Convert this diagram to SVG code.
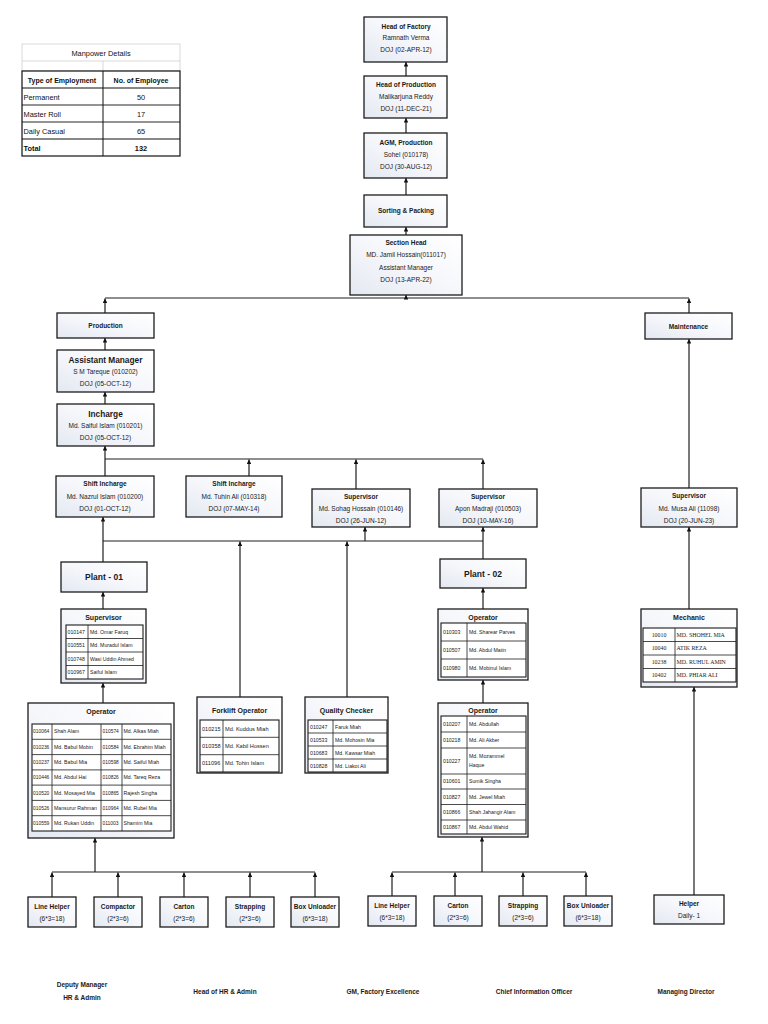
<svg xmlns="http://www.w3.org/2000/svg" width="768" height="1024" viewBox="0 0 768 1024">
<style>
.box{fill:url(#g);stroke:#1c1c1c;stroke-width:1.3}
.tb{fill:#fff;stroke:#1c1c1c;stroke-width:1.1}
.gl{stroke:#1c1c1c;stroke-width:0.8;fill:none}
.t{font-family:"Liberation Sans",Arial,sans-serif;font-size:6.5px;fill:#1a1a1a;text-anchor:middle}
.b{font-weight:bold}
.h1{font-size:8.3px;font-weight:bold}
.h2{font-size:8.5px;font-weight:bold}
.ti{font-size:7px;font-weight:bold}
.c{font-family:"Liberation Sans",Arial,sans-serif;font-size:5.2px;fill:#222}
.cs{font-family:"Liberation Serif","Times New Roman",serif;font-size:5.9px;fill:#222}
.conn{stroke:#1e1e1e;stroke-width:1.2;fill:none}
.mp{font-family:"Liberation Sans",Arial,sans-serif;font-size:7.4px;fill:#111}
</style>
<defs>
<linearGradient id="g" x1="1" y1="0" x2="0" y2="1">
<stop offset="0" stop-color="#ffffff"/>
<stop offset="0.5" stop-color="#f6f7fb"/>
<stop offset="1" stop-color="#e3e8f1"/>
</linearGradient>
<marker id="ar" viewBox="0 0 6 6" refX="6" refY="3" markerWidth="5" markerHeight="4.5" markerUnits="userSpaceOnUse" orient="auto">
<path d="M0,0 L6,3 L0,6 z" fill="#111"/>
</marker>
</defs>
<rect width="768" height="1024" fill="#fff"/>

<!-- Manpower table -->
<g id="manpower">
<rect x="22" y="44" width="158" height="27" fill="#fff" stroke="#cfcfcf" stroke-width="0.8"/>
<line x1="22" y1="61" x2="180" y2="61" stroke="#cfcfcf" stroke-width="0.8"/>
<line x1="103" y1="61" x2="103" y2="71" stroke="#cfcfcf" stroke-width="0.8"/>
<rect x="22" y="71" width="158" height="85" fill="#fff" stroke="#111" stroke-width="1.2"/>
<line x1="22" y1="88" x2="180" y2="88" stroke="#111" stroke-width="1.2"/>
<line x1="22" y1="105" x2="180" y2="105" stroke="#111" stroke-width="0.9"/>
<line x1="22" y1="122" x2="180" y2="122" stroke="#111" stroke-width="0.9"/>
<line x1="22" y1="139" x2="180" y2="139" stroke="#111" stroke-width="1.2"/>
<line x1="103" y1="71" x2="103" y2="156" stroke="#111" stroke-width="1"/>
<text class="mp" x="101" y="55.5" text-anchor="middle">Manpower Details</text>
<text class="mp b" x="62" y="82.5" text-anchor="middle" style="font-size:7px">Type of Employment</text>
<text class="mp b" x="141" y="82.5" text-anchor="middle" style="font-size:7px">No. of Employee</text>
<text class="mp" x="23.5" y="99.5">Permanent</text>
<text class="mp" x="141" y="99.5" text-anchor="middle">50</text>
<text class="mp" x="23.5" y="116.5">Master Roll</text>
<text class="mp" x="141" y="116.5" text-anchor="middle">17</text>
<text class="mp" x="23.5" y="133.5">Daily Casual</text>
<text class="mp" x="141" y="133.5" text-anchor="middle">65</text>
<text class="mp b" x="23.5" y="150.5">Total</text>
<text class="mp b" x="141" y="150.5" text-anchor="middle">132</text>
</g>

<!-- Connectors -->
<g id="connectors">
<path class="conn" marker-end="url(#ar)" d="M406,76 V62"/>
<path class="conn" marker-end="url(#ar)" d="M406,133 V118"/>
<path class="conn" marker-end="url(#ar)" d="M406,195 V178"/>
<path class="conn" marker-end="url(#ar)" d="M406,235 V227"/>
<path class="conn" d="M105,298 H689"/>
<path class="conn" marker-end="url(#ar)" d="M406,298 V295"/>
<path class="conn" marker-end="url(#ar)" d="M105,313 V298.6"/>
<path class="conn" marker-end="url(#ar)" d="M689,313 V298.6"/>
<path class="conn" marker-end="url(#ar)" d="M105,350 V338"/>
<path class="conn" marker-end="url(#ar)" d="M105,404 V392"/>
<path class="conn" marker-end="url(#ar)" d="M105,476 V446"/>
<path class="conn" d="M105,459 H483"/>
<path class="conn" marker-end="url(#ar)" d="M249,476 V459.6"/>
<path class="conn" marker-end="url(#ar)" d="M356,489 V459.6"/>
<path class="conn" marker-end="url(#ar)" d="M483,489 V459.6"/>
<path class="conn" marker-end="url(#ar)" d="M103,562 V517"/>
<path class="conn" d="M103,541 H483"/>
<path class="conn" marker-end="url(#ar)" d="M365,541 V527"/>
<path class="conn" marker-end="url(#ar)" d="M483,559 V527"/>
<path class="conn" marker-end="url(#ar)" d="M240,697 V541.6"/>
<path class="conn" marker-end="url(#ar)" d="M347,697 V541.6"/>
<path class="conn" marker-end="url(#ar)" d="M103,609 V592"/>
<path class="conn" marker-end="url(#ar)" d="M103,703 V683"/>
<path class="conn" d="M52,872 H315"/>
<path class="conn" marker-end="url(#ar)" d="M95,872 V838"/>
<path class="conn" marker-end="url(#ar)" d="M52,897 V872.6"/>
<path class="conn" marker-end="url(#ar)" d="M118,897 V872.6"/>
<path class="conn" marker-end="url(#ar)" d="M184,897 V872.6"/>
<path class="conn" marker-end="url(#ar)" d="M250,897 V872.6"/>
<path class="conn" marker-end="url(#ar)" d="M315,897 V872.6"/>
<path class="conn" marker-end="url(#ar)" d="M483,609 V588"/>
<path class="conn" marker-end="url(#ar)" d="M483,703 V680"/>
<path class="conn" d="M392,872 H586"/>
<path class="conn" marker-end="url(#ar)" d="M482,872 V837"/>
<path class="conn" marker-end="url(#ar)" d="M392,896 V872.6"/>
<path class="conn" marker-end="url(#ar)" d="M455,896 V872.6"/>
<path class="conn" marker-end="url(#ar)" d="M523,896 V872.6"/>
<path class="conn" marker-end="url(#ar)" d="M586,896 V872.6"/>
<path class="conn" marker-end="url(#ar)" d="M689,488 V339"/>
<path class="conn" marker-end="url(#ar)" d="M689,609 V527"/>
<path class="conn" marker-end="url(#ar)" d="M694,895 V687"/>
</g>

<!-- Top chain -->
<g id="head-factory">
<rect class="box" x="364" y="17" width="83" height="45"/>
<text class="t b" x="406" y="28.5">Head of Factory</text>
<text class="t" x="406" y="40">Ramnath Verma</text>
<text class="t" x="406" y="51.5">DOJ (02-APR-12)</text>
</g>
<g id="head-production">
<rect class="box" x="364" y="76" width="83" height="42"/>
<text class="t b" x="406" y="87">Head of Production</text>
<text class="t" x="406" y="99">Malikarjuna Reddy</text>
<text class="t" x="406" y="111">DOJ (11-DEC-21)</text>
</g>
<g id="agm">
<rect class="box" x="364" y="133" width="83" height="45"/>
<text class="t b" x="406" y="145">AGM, Production</text>
<text class="t" x="406" y="157">Sohel (010178)</text>
<text class="t" x="406" y="169">DOJ (30-AUG-12)</text>
</g>
<g id="sorting">
<rect class="box" x="364" y="195" width="83" height="32"/>
<text class="t b" x="406" y="213">Sorting &amp; Packing</text>
</g>
<g id="section-head">
<rect class="box" x="350" y="235" width="112" height="60"/>
<text class="t b" x="406" y="244.5">Section Head</text>
<text class="t" x="406" y="257">MD. Jamil Hossain(011017)</text>
<text class="t" x="406" y="269.5">Assistant Manager</text>
<text class="t" x="406" y="282">DOJ (13-APR-22)</text>
</g>

<!-- Production column -->
<g id="production">
<rect class="box" x="57" y="313" width="97" height="25"/>
<text class="t b" x="105.5" y="328.3">Production</text>
</g>
<g id="assistant-manager">
<rect class="box" x="57" y="350" width="97" height="42"/>
<text class="t h1" x="105.5" y="362.5">Assistant Manager</text>
<text class="t" x="105.5" y="374">S M Tareque (010202)</text>
<text class="t" x="105.5" y="386">DOJ (05-OCT-12)</text>
</g>
<g id="incharge">
<rect class="box" x="57" y="404" width="97" height="42"/>
<text class="t h1" x="105.5" y="416.5">Incharge</text>
<text class="t" x="105.5" y="428">Md. Saiful Islam (010201)</text>
<text class="t" x="105.5" y="440">DOJ (05-OCT-12)</text>
</g>

<!-- Shift row -->
<g id="shift-incharge-1">
<rect class="box" x="56" y="476" width="98" height="41"/>
<text class="t b" x="105" y="486">Shift Incharge</text>
<text class="t" x="105" y="498.5">Md. Nazrul Islam (010200)</text>
<text class="t" x="105" y="510.5">DOJ (01-OCT-12)</text>
</g>
<g id="shift-incharge-2">
<rect class="box" x="186" y="476" width="96" height="41"/>
<text class="t b" x="234" y="486">Shift Incharge</text>
<text class="t" x="234" y="498.5">Md. Tuhin Ali (010318)</text>
<text class="t" x="234" y="510.5">DOJ (07-MAY-14)</text>
</g>
<g id="supervisor-sohag">
<rect class="box" x="312" y="489" width="98" height="38"/>
<text class="t b" x="361" y="498.5">Supervisor</text>
<text class="t" x="361" y="510.5">Md. Sohag Hossain (010146)</text>
<text class="t" x="361" y="523">DOJ (26-JUN-12)</text>
</g>
<g id="supervisor-apon">
<rect class="box" x="439" y="489" width="98" height="38"/>
<text class="t b" x="488" y="498.5">Supervisor</text>
<text class="t" x="488" y="510.5">Apon Madraji (010503)</text>
<text class="t" x="488" y="523">DOJ (10-MAY-16)</text>
</g>

<!-- Maintenance column -->
<g id="maintenance">
<rect class="box" x="645" y="313" width="87" height="26"/>
<text class="t b" x="688.5" y="328.5">Maintenance</text>
</g>
<g id="supervisor-musa">
<rect class="box" x="641" y="488" width="96" height="39"/>
<text class="t b" x="689" y="498">Supervisor</text>
<text class="t" x="689" y="510.5">Md. Musa Ali (11098)</text>
<text class="t" x="689" y="522.5">DOJ (20-JUN-23)</text>
</g>

<!-- Plants -->
<g id="plant-01">
<rect class="box" x="61" y="562" width="86" height="30"/>
<text class="t h2" x="104" y="580">Plant - 01</text>
</g>
<g id="plant-02">
<rect class="box" x="440" y="559" width="86" height="29"/>
<text class="t h2" x="483" y="576.5">Plant - 02</text>
</g>

<!-- Plant 01 supervisor table -->
<g id="plant01-supervisor">
<rect class="box" x="61" y="609" width="85" height="74"/>
<text class="t ti" x="103.5" y="619.5">Supervisor</text>
<rect class="tb" x="66" y="625" width="77" height="54"/>
<path class="gl" d="M66,638.5 H143 M66,652 H143 M66,665.5 H143 M88,625 V679"/>
<text class="c" x="67.5" y="633.7">010147</text><text class="c" x="90" y="633.7">Md. Omar Faruq</text>
<text class="c" x="67.5" y="647.2">010551</text><text class="c" x="90" y="647.2">Md. Muradul Islam</text>
<text class="c" x="67.5" y="660.7">010748</text><text class="c" x="90" y="660.7">Wasi Uddin Ahmed</text>
<text class="c" x="67.5" y="674.2">010967</text><text class="c" x="90" y="674.2">Saiful Islam</text>
</g>

<!-- Plant 01 operator table -->
<g id="plant01-operator">
<rect class="box" x="28" y="703" width="146" height="135"/>
<text class="t ti" x="101" y="714">Operator</text>
<rect class="tb" x="32" y="724" width="139" height="107"/>
<path class="gl" d="M32,739.3 H171 M32,754.6 H171 M32,769.9 H171 M32,785.1 H171 M32,800.4 H171 M32,815.7 H171 M52,724 V831 M101,724 V831 M122,724 V831"/>
<text class="c" x="33" y="733.4" style="font-size:4.9px">010064</text><text class="c" x="54" y="733.4">Shah Alam</text><text class="c" x="102.5" y="733.4" style="font-size:4.9px">010574</text><text class="c" x="123.5" y="733.4">Md. Alkas Miah</text>
<text class="c" x="33" y="748.7" style="font-size:4.9px">010236</text><text class="c" x="54" y="748.7">Md. Babul Mobin</text><text class="c" x="102.5" y="748.7" style="font-size:4.9px">010584</text><text class="c" x="123.5" y="748.7">Md. Ebrahim Miah</text>
<text class="c" x="33" y="764" style="font-size:4.9px">010237</text><text class="c" x="54" y="764">Md. Babul Mia</text><text class="c" x="102.5" y="764" style="font-size:4.9px">010598</text><text class="c" x="123.5" y="764">Md. Saiful Miah</text>
<text class="c" x="33" y="779.3" style="font-size:4.9px">010446</text><text class="c" x="54" y="779.3">Md. Abdul Hai</text><text class="c" x="102.5" y="779.3" style="font-size:4.9px">010826</text><text class="c" x="123.5" y="779.3">Md. Tareq Reza</text>
<text class="c" x="33" y="794.5" style="font-size:4.9px">010520</text><text class="c" x="54" y="794.5">Md. Mosayed Mia</text><text class="c" x="102.5" y="794.5" style="font-size:4.9px">010865</text><text class="c" x="123.5" y="794.5">Rajesh Singha</text>
<text class="c" x="33" y="809.8" style="font-size:4.9px">010526</text><text class="c" x="54" y="809.8">Mansurur Rahman</text><text class="c" x="102.5" y="809.8" style="font-size:4.9px">010964</text><text class="c" x="123.5" y="809.8">Md. Rubel Mia</text>
<text class="c" x="33" y="825.1" style="font-size:4.9px">010559</text><text class="c" x="54" y="825.1">Md. Rukan Uddin</text><text class="c" x="102.5" y="825.1" style="font-size:4.9px">011003</text><text class="c" x="123.5" y="825.1">Shamim Mia</text>
</g>

<!-- Forklift -->
<g id="forklift-operator">
<rect class="box" x="197" y="697" width="85" height="76"/>
<text class="t ti" x="239.5" y="712.5">Forklift Operator</text>
<rect class="tb" x="200" y="720" width="79" height="52"/>
<path class="gl" d="M200,737.3 H279 M200,754.7 H279 M223,720 V772"/>
<text class="c" x="202" y="730.6" style="font-size:5.6px">010215</text><text class="c" x="225" y="730.6" style="font-size:5.6px">Md. Kuddus Miah</text>
<text class="c" x="202" y="747.9" style="font-size:5.6px">010358</text><text class="c" x="225" y="747.9" style="font-size:5.6px">Md. Kabil Hossen</text>
<text class="c" x="202" y="765.3" style="font-size:5.6px">011096</text><text class="c" x="225" y="765.3" style="font-size:5.6px">Md. Tohin Islam</text>
</g>

<!-- Quality checker -->
<g id="quality-checker">
<rect class="box" x="305" y="697" width="83" height="76"/>
<text class="t ti" x="346.5" y="712.5">Quality Checker</text>
<rect class="tb" x="308" y="720" width="79" height="52"/>
<path class="gl" d="M308,733 H387 M308,746 H387 M308,759 H387 M333,720 V772"/>
<text class="c" x="310" y="728.5">010247</text><text class="c" x="335" y="728.5">Faruk Miah</text>
<text class="c" x="310" y="741.5">010533</text><text class="c" x="335" y="741.5">Md. Mohosin Mia</text>
<text class="c" x="310" y="754.5">010683</text><text class="c" x="335" y="754.5">Md. Kawsar Miah</text>
<text class="c" x="310" y="767.5">010828</text><text class="c" x="335" y="767.5">Md. Liakot Ali</text>
</g>

<!-- Plant 02 operator 1 -->
<g id="plant02-operator-1">
<rect class="box" x="438" y="609" width="90" height="71"/>
<text class="t ti" x="483" y="619.5">Operator</text>
<rect class="tb" x="441" y="623" width="85" height="54"/>
<path class="gl" d="M441,641 H526 M441,659 H526 M467,623 V677"/>
<text class="c" x="443" y="633.8">010303</text><text class="c" x="469" y="633.8">Md. Sharear Parves</text>
<text class="c" x="443" y="651.8">010507</text><text class="c" x="469" y="651.8">Md. Abdul Matin</text>
<text class="c" x="443" y="669.8">010980</text><text class="c" x="469" y="669.8">Md. Mobinul Islam</text>
</g>

<!-- Plant 02 operator 2 -->
<g id="plant02-operator-2">
<rect class="box" x="438" y="703" width="90" height="134"/>
<text class="t ti" x="483" y="712.5">Operator</text>
<rect class="tb" x="441" y="716" width="85" height="118"/>
<path class="gl" d="M441,732 H526 M441,748 H526 M441,774 H526 M441,789 H526 M441,804.5 H526 M441,820 H526 M467,716 V834"/>
<text class="c" x="443" y="725.8">010207</text><text class="c" x="469" y="725.8">Md. Abdullah</text>
<text class="c" x="443" y="741.8">010218</text><text class="c" x="469" y="741.8">Md. Ali Akber</text>
<text class="c" x="443" y="762.8">010227</text><text class="c" x="469" y="757.5">Md. Mozammel</text><text class="c" x="469" y="766.5">Haque</text>
<text class="c" x="443" y="783.3">010601</text><text class="c" x="469" y="783.3">Sumik Singha</text>
<text class="c" x="443" y="798.5">010827</text><text class="c" x="469" y="798.5">Md. Jewel Miah</text>
<text class="c" x="443" y="814">010866</text><text class="c" x="469" y="814">Shah Jahangir Alam</text>
<text class="c" x="443" y="828.8">010867</text><text class="c" x="469" y="828.8">Md. Abdul Wahid</text>
</g>

<!-- Mechanic -->
<g id="mechanic">
<rect class="box" x="641" y="609" width="96" height="78"/>
<text class="t ti" x="689" y="620">Mechanic</text>
<rect class="tb" x="643" y="628" width="93" height="54"/>
<path class="gl" d="M643,641.5 H736 M643,655 H736 M643,668.5 H736 M675,628 V682"/>
<text class="cs" x="659" y="636.8" text-anchor="middle">10010</text><text class="cs" x="676.5" y="636.8">MD. SHOHEL MIA</text>
<text class="cs" x="659" y="650.3" text-anchor="middle">10040</text><text class="cs" x="676.5" y="650.3">ATIK REZA</text>
<text class="cs" x="659" y="663.8" text-anchor="middle">10238</text><text class="cs" x="676.5" y="663.8">MD. RUHUL AMIN</text>
<text class="cs" x="659" y="677.3" text-anchor="middle">10402</text><text class="cs" x="676.5" y="677.3">MD. PHIAR ALI</text>
</g>

<!-- Bottom workers left -->
<g id="p1-line-helper">
<rect class="box" x="28" y="897" width="48" height="30"/>
<text class="t b" x="52" y="908.5">Line Helper</text>
<text class="t" x="52" y="920.5">(6*3=18)</text>
</g>
<g id="p1-compactor">
<rect class="box" x="94" y="897" width="48" height="30"/>
<text class="t b" x="118" y="908.5">Compactor</text>
<text class="t" x="118" y="920.5">(2*3=6)</text>
</g>
<g id="p1-carton">
<rect class="box" x="160" y="897" width="48" height="30"/>
<text class="t b" x="184" y="908.5">Carton</text>
<text class="t" x="184" y="920.5">(2*3=6)</text>
</g>
<g id="p1-strapping">
<rect class="box" x="226" y="897" width="48" height="30"/>
<text class="t b" x="250" y="908.5">Strapping</text>
<text class="t" x="250" y="920.5">(2*3=6)</text>
</g>
<g id="p1-box-unloader">
<rect class="box" x="291" y="897" width="48" height="30"/>
<text class="t b" x="315" y="908.5">Box Unloader</text>
<text class="t" x="315" y="920.5">(6*3=18)</text>
</g>

<!-- Bottom workers right -->
<g id="p2-line-helper">
<rect class="box" x="368" y="896" width="48" height="30"/>
<text class="t b" x="392" y="907.5">Line Helper</text>
<text class="t" x="392" y="919.5">(6*3=18)</text>
</g>
<g id="p2-carton">
<rect class="box" x="434" y="896" width="48" height="30"/>
<text class="t b" x="458" y="907.5">Carton</text>
<text class="t" x="458" y="919.5">(2*3=6)</text>
</g>
<g id="p2-strapping">
<rect class="box" x="499" y="896" width="48" height="30"/>
<text class="t b" x="523" y="907.5">Strapping</text>
<text class="t" x="523" y="919.5">(2*3=6)</text>
</g>
<g id="p2-box-unloader">
<rect class="box" x="564" y="896" width="48" height="30"/>
<text class="t b" x="588" y="907.5">Box Unloader</text>
<text class="t" x="588" y="919.5">(6*3=18)</text>
</g>
<g id="helper">
<rect class="box" x="654" y="895" width="70" height="29"/>
<text class="t b" x="689" y="905.5">Helper</text>
<text class="t" x="689" y="917.5">Daily- 1</text>
</g>

<!-- Signatures -->
<g id="signatures">
<text class="t b" x="82" y="987">Deputy Manager</text>
<text class="t b" x="82" y="1000">HR &amp; Admin</text>
<text class="t b" x="225" y="994">Head of HR &amp; Admin</text>
<text class="t b" x="383" y="994">GM, Factory Excellence</text>
<text class="t b" x="534" y="994">Chief Information Officer</text>
<text class="t b" x="686" y="994">Managing Director</text>
</g>
</svg>
